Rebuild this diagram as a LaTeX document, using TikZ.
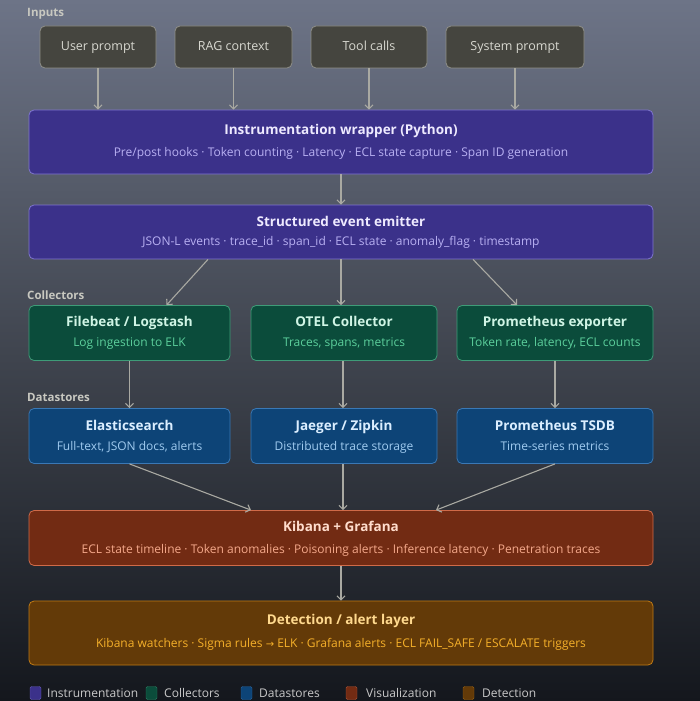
\documentclass[tikz,border=0pt]{standalone}
\usepackage{fontspec}
\setmainfont{Open Sans}
\newfontfamily\symfont{DejaVu Sans}
\usetikzlibrary{arrows.meta}
\definecolor{bgtop}{HTML}{6D7487}
\definecolor{bgmid}{HTML}{40454F}
\definecolor{bgbot}{HTML}{14171D}
\definecolor{lbl}{HTML}{C8C8C0}
\definecolor{arrc}{HTML}{A9A9A2}
\definecolor{infill}{HTML}{45453F}
\definecolor{inborder}{HTML}{8F8F88}
\definecolor{intext}{HTML}{D8D8D0}
\definecolor{purfill}{HTML}{3B318A}
\definecolor{purborder}{HTML}{7F75D0}
\definecolor{purtitle}{HTML}{EEEAFF}
\definecolor{pursub}{HTML}{B8B0F2}
\definecolor{grnfill}{HTML}{0B4C3B}
\definecolor{grnborder}{HTML}{3E9C78}
\definecolor{grntitle}{HTML}{D0F5E5}
\definecolor{grnsub}{HTML}{5CCF9C}
\definecolor{blufill}{HTML}{0D4477}
\definecolor{bluborder}{HTML}{3A78B5}
\definecolor{blutitle}{HTML}{DBEEFF}
\definecolor{blusub}{HTML}{A0CBF0}
\definecolor{redfill}{HTML}{722B13}
\definecolor{redborder}{HTML}{D06A48}
\definecolor{redtitle}{HTML}{FFDCCC}
\definecolor{redsub}{HTML}{F4A88A}
\definecolor{ambfill}{HTML}{633A08}
\definecolor{ambborder}{HTML}{C07A14}
\definecolor{ambtitle}{HTML}{FFD98E}
\definecolor{ambsub}{HTML}{F5B02A}
\definecolor{legtext}{HTML}{C8C8C8}
\pgfdeclareverticalshading{bgshade}{100bp}{color(0bp)=(bgbot); color(25bp)=(bgbot); color(50bp)=(bgmid); color(75bp)=(bgtop); color(100bp)=(bgtop)}
\tikzset{
  box/.style={draw, rounded corners=5pt, line width=0.8pt, inner sep=0pt},
  inbox/.style={box, fill=infill, draw=inborder, text=intext, minimum width=116pt, minimum height=42pt,
    font=\fontsize{12.5}{14}\selectfont, text height=0.75em, text depth=0pt},
  wide/.style={box, minimum width=624pt},
  third/.style={box, minimum height=55pt},
  ttl/.style={inner sep=0pt, font=\bfseries\fontsize{13.5}{15}\selectfont, text height=1.0em, text depth=0pt},
  sub/.style={inner sep=0pt, font=\fontsize{12}{14}\selectfont, text height=1.05em, text depth=0pt},
  sect/.style={inner sep=0pt, anchor=west, text=lbl, font=\bfseries\fontsize{11.5}{13}\selectfont, text height=0.88em, text depth=0pt},
  legsq/.style={rounded corners=1.5pt, minimum width=11pt, minimum height=13pt, inner sep=0pt},
  legtx/.style={inner sep=0pt, anchor=west, text=legtext, font=\fontsize{12}{14}\selectfont, text height=0.88em, text depth=0pt},
  arr/.style={draw=arrc, line width=1.1pt, -{Straight Barb[length=4pt,width=8pt]}}
}
\begin{document}
\begin{tikzpicture}[x=1pt,y=-1pt]
\useasboundingbox (0,0) rectangle (700,701);
\shade[shading=bgshade] (0,0) rectangle (700,701);

% section labels
\node[sect] (lin) at (27,12) {Inputs};
\node[sect] (lcol) at (27,295) {Collectors};
\node[sect] (lds) at (27,397) {Datastores};

% inputs
\node[inbox] (up) at (98,47) {User prompt};
\node[inbox, minimum width=117pt] (rag) at (233.5,47) {RAG context};
\node[inbox] (tc) at (369,47) {Tool calls};
\node[inbox, minimum width=138pt] (sp) at (515,47) {System prompt};

% wrapper
\node[wide, fill=purfill, draw=purborder, minimum height=64pt] (wrap) at (341,142) {};
\node[ttl, text=purtitle] (wrapT) at (341,129) {Instrumentation wrapper (Python)};
\node[sub, text=pursub] (wrapS) at (341,151) {Pre/post hooks · Token counting · Latency · ECL state capture · Span ID generation};

% emitter
\node[wide, fill=purfill, draw=purborder, minimum height=54pt] (emit) at (341,232) {};
\node[ttl, text=purtitle] (emitT) at (341,221) {Structured event emitter};
\node[sub, text=pursub] (emitS) at (341,240) {JSON-L events · trace\_id · span\_id · ECL state · anomaly\_flag · timestamp};

% collectors
\node[third, fill=grnfill, draw=grnborder, minimum width=201pt] (fb) at (129.5,333) {};
\node[ttl, text=grntitle] (fbT) at (129.5,321) {Filebeat / Logstash};
\node[sub, text=grnsub] (fbS) at (129.5,341) {Log ingestion to ELK};
\node[third, fill=grnfill, draw=grnborder, minimum width=186pt] (ot) at (344,333) {};
\node[ttl, text=grntitle] (otT) at (344,321) {OTEL Collector};
\node[sub, text=grnsub] (otS) at (344,341) {Traces, spans, metrics};
\node[third, fill=grnfill, draw=grnborder, minimum width=196pt] (pe) at (555,333) {};
\node[ttl, text=grntitle] (peT) at (555,321) {Prometheus exporter};
\node[sub, text=grnsub] (peS) at (555,341) {Token rate, latency, ECL counts};

% datastores
\node[third, fill=blufill, draw=bluborder, minimum width=201pt] (es) at (129.5,436) {};
\node[ttl, text=blutitle] (esT) at (129.5,425) {Elasticsearch};
\node[sub, text=blusub] (esS) at (129.5,445) {Full-text, JSON docs, alerts};
\node[third, fill=blufill, draw=bluborder, minimum width=186pt] (jz) at (344,436) {};
\node[ttl, text=blutitle] (jzT) at (344,425) {Jaeger / Zipkin};
\node[sub, text=blusub] (jzS) at (344,445) {Distributed trace storage};
\node[third, fill=blufill, draw=bluborder, minimum width=196pt] (pt) at (555,436) {};
\node[ttl, text=blutitle] (ptT) at (555,425) {Prometheus TSDB};
\node[sub, text=blusub] (ptS) at (555,445) {Time-series metrics};

% kibana
\node[wide, fill=redfill, draw=redborder, minimum height=55pt] (kib) at (341,538) {};
\node[ttl, text=redtitle] (kibT) at (341,526) {Kibana + Grafana};
\node[sub, text=redsub] (kibS) at (341,548) {ECL state timeline · Token anomalies · Poisoning alerts · Inference latency · Penetration traces};

% detection
\node[wide, fill=ambfill, draw=ambborder, minimum height=64pt] (det) at (341,633) {};
\node[ttl, text=ambtitle] (detT) at (341,619) {Detection / alert layer};
\node[sub, text=ambsub] (detS) at (341,642) {Kibana watchers · Sigma rules {\symfont\fontsize{10}{12}\selectfont →} ELK · Grafana alerts · ECL FAIL\_SAFE / ESCALATE triggers};

% connectors
\draw[arr] (up.south) -- (up.south |- wrap.north);
\draw[arr] (rag.south) -- (rag.south |- wrap.north);
\draw[arr] (tc.south) -- (tc.south |- wrap.north);
\draw[arr] (sp.south) -- (sp.south |- wrap.north);
\draw[arr] (wrap.south) -- (emit.north);
\draw[arr] ([xshift=-133pt]emit.south) -- ([xshift=37pt]fb.north);
\draw[arr] (emit.south) -- (emit.south |- ot.north);
\draw[arr] ([xshift=132pt]emit.south) -- ([xshift=-38pt]pe.north);
\draw[arr] (fb.south) -- (es.north);
\draw[arr] ([xshift=-1pt]ot.south) -- ([xshift=-1pt]jz.north);
\draw[arr] (pe.south) -- (pt.north);
\draw[arr] (es.south) -- ([xshift=-90pt]kib.north);
\draw[arr] ([xshift=-1pt]jz.south) -- ([xshift=-1pt]jz.south |- kib.north);
\draw[arr] (pt.south) -- ([xshift=95pt]kib.north);
\draw[arr] (kib.south) -- (det.north);

% legend
\node[legsq, fill=purfill, draw=purborder!60!purfill] (sq1) at (35.5,693) {};
\node[legtx] (lg1) at (47,693) {Instrumentation};
\node[legsq, fill=grnfill, draw=grnborder!60!grnfill] (sq2) at (151.5,693) {};
\node[legtx] (lg2) at (164,693) {Collectors};
\node[legsq, fill=blufill, draw=bluborder!60!blufill] (sq3) at (246.5,693) {};
\node[legtx] (lg3) at (259,693) {Datastores};
\node[legsq, fill=redfill, draw=redborder!60!redfill] (sq4) at (351.5,693) {};
\node[legtx] (lg4) at (366,693) {Visualization};
\node[legsq, fill=ambfill, draw=ambborder!60!ambfill] (sq5) at (468.5,693) {};
\node[legtx] (lg5) at (482,693) {Detection};
\end{tikzpicture}
\end{document}
